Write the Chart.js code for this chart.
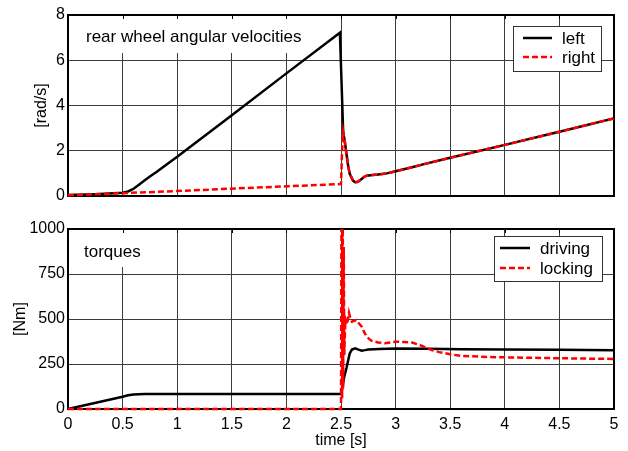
<!DOCTYPE html>
<html>
<head>
<meta charset="utf-8">
<script src="https://cdn.jsdelivr.net/npm/chart.js@4.4.0/dist/chart.umd.min.js"></script>
<style>
html,body{margin:0;padding:0;background:#fff;}
#panelTop{position:absolute;left:0;top:0;width:628px;height:215px;}
#panelBottom{position:absolute;left:0;top:215px;width:628px;height:236px;}
</style>
</head>
<body>
<div id="panelTop"><canvas id="chartVel"></canvas></div>
<div id="panelBottom"><canvas id="chartTorque"></canvas></div>
<script>
// top panel: rear wheel angular velocities [rad/s]
const tLeft = [0, 0.25, 0.5, 0.55, 0.6, 0.65, 0.7, 0.75, 0.81, 0.9, 1.0, 1.5, 2.0, 2.49, 2.52, 2.535, 2.55, 2.565, 2.58, 2.61, 2.63, 2.655, 2.68, 2.71, 2.735, 2.79, 2.84, 2.92, 3.0, 3.15, 3.27, 3.5, 4.0, 4.5, 5.0];
const leftVel = [0.04, 0.08, 0.14, 0.2, 0.32, 0.5, 0.68, 0.86, 1.06, 1.38, 1.73, 3.57, 5.42, 7.22, 2.83, 2.4, 1.86, 1.35, 0.98, 0.68, 0.61, 0.63, 0.72, 0.84, 0.9, 0.93, 0.95, 1.0, 1.09, 1.27, 1.42, 1.69, 2.26, 2.84, 3.43];
const tRight = [0, 1.0, 2.0, 2.5, 2.51, 2.52, 2.535, 2.55, 2.565, 2.58, 2.61, 2.63, 2.655, 2.68, 2.71, 2.735, 2.79, 2.84, 2.92, 3.0, 3.15, 3.27, 3.5, 4.0, 4.5, 5.0];
const rightVel = [0.03, 0.22, 0.43, 0.53, 2.0, 2.83, 2.4, 1.86, 1.35, 0.98, 0.68, 0.61, 0.63, 0.72, 0.84, 0.9, 0.93, 0.95, 1.0, 1.09, 1.27, 1.42, 1.69, 2.26, 2.84, 3.43];

// bottom panel: torques [Nm]
const tDriving = [0, 0.5, 0.55, 0.6, 0.65, 0.7, 1.0, 2.5, 2.51, 2.53, 2.55, 2.58, 2.6, 2.63, 2.66, 2.69, 2.72, 2.75, 2.85, 3.0, 3.3, 3.6, 4.0, 4.5, 5.0];
const driving = [0, 68, 76, 80, 82, 83.5, 84, 84, 110, 180, 228, 309, 330, 337, 330, 324, 327, 331, 333, 336, 335, 332, 331, 329, 326];
const tLocking = [0, 2.5, 2.505, 2.51, 2.515, 2.52, 2.525, 2.53, 2.54, 2.555, 2.573, 2.585, 2.6, 2.62, 2.64, 2.665, 2.69, 2.71, 2.735, 2.76, 2.78, 2.84, 2.9, 2.95, 3.0, 3.08, 3.15, 3.22, 3.28, 3.33, 3.4, 3.45, 3.5, 3.6, 3.8, 4.0, 4.5, 5.0];
const locking = [0, 0, 1300, 60, 1300, 120, 900, 300, 500, 470, 535, 505, 485, 490, 494, 475, 457, 430, 402, 388, 379, 370, 365, 370, 374, 372, 369, 356, 340, 328, 316, 310, 304, 295, 290, 287, 282, 278];

const xTicks = [0, 0.5, 1, 1.5, 2, 2.5, 3, 3.5, 4, 4.5, 5];
const velTicks = [0, 2, 4, 6, 8];
const torqueTicks = [0, 250, 500, 750, 1000];

Chart.defaults.font.family = '"Liberation Sans", Arial, Helvetica, sans-serif';
Chart.defaults.color = '#000';
Chart.defaults.animation = false;

const puntos = (ts, ys) => ts.map((t, i) => ({x: t, y: ys[i]}));

const gridColor = '#3c3c3c';

// white box + text inside the plot, then the frame (data goes on top)
const panelLabel = {
  id: 'panelLabel',
  beforeDatasetsDraw(chart, args, o) {
    const {ctx, chartArea: a, scales} = chart;
    ctx.save();
    ctx.fillStyle = '#fff';
    ctx.fillRect(o.box[0], o.box[1], o.box[2], o.box[3]);
    ctx.fillStyle = '#000';
    ctx.font = '17px "Liberation Sans", Arial, sans-serif';
    ctx.textBaseline = 'alphabetic';
    ctx.fillText(o.text, o.x, o.y);

    ctx.strokeStyle = '#000';
    ctx.lineWidth = 1;
    scales.x.ticks.forEach(t => {
      const px = Math.round(scales.x.getPixelForValue(t.value)) + 0.5;
      ctx.beginPath();
      ctx.moveTo(px, a.top);
      ctx.lineTo(px, a.top + 4);
      ctx.stroke();
    });
    ctx.lineWidth = 2;
    ctx.strokeRect(a.left, a.top, a.right - a.left, a.bottom - a.top);
    ctx.restore();
  }
};

const innerLegend = {
  id: 'innerLegend',
  afterDraw(chart, args, o) {
    const ctx = chart.ctx;
    ctx.save();
    ctx.fillStyle = '#fff';
    ctx.fillRect(o.x, o.y, o.w, o.h);
    ctx.strokeStyle = '#333';
    ctx.lineWidth = 1;
    ctx.strokeRect(o.x + 0.5, o.y + 0.5, o.w, o.h);
    chart.data.datasets.forEach((ds, i) => {
      const y = o.rows[i];
      ctx.strokeStyle = ds.borderColor;
      ctx.lineWidth = ds.borderWidth;
      ctx.setLineDash(ds.borderDash || []);
      ctx.beginPath();
      ctx.moveTo(o.lineX0, y);
      ctx.lineTo(o.lineX1, y);
      ctx.stroke();
      ctx.setLineDash([]);
      ctx.fillStyle = '#000';
      ctx.font = '17px "Liberation Sans", Arial, sans-serif';
      ctx.textBaseline = 'middle';
      ctx.fillText(ds.label, o.textX, y + 1);
    });
    ctx.restore();
  }
};

function ejeX(mostrarTexto, alto) {
  return {
    type: 'linear',
    min: 0,
    max: 5,
    afterBuildTicks: s => { s.ticks = xTicks.map(v => ({value: v})); },
    afterFit: s => { s.height = alto; },
    ticks: {
      display: mostrarTexto,
      padding: 6,
      maxRotation: 0,
      autoSkip: false,
      font: {size: 16},
      callback: v => String(+v.toFixed(1))
    },
    grid: {color: gridColor, lineWidth: 1, drawTicks: false},
    border: {display: false},
    title: {
      display: mostrarTexto,
      text: 'time [s]',
      font: {size: 16},
      padding: {top: 0, bottom: 1}
    }
  };
}

function ejeY(ticks, titulo, padTitulo) {
  return {
    min: ticks[0],
    max: ticks[ticks.length - 1],
    afterBuildTicks: s => { s.ticks = ticks.map(v => ({value: v})); },
    afterFit: s => { s.width = 68; },
    ticks: {padding: 3, font: {size: 16}, callback: v => String(v)},
    grid: {color: gridColor, lineWidth: 1, drawTicks: false},
    border: {display: false},
    title: {
      display: true,
      text: titulo,
      font: {size: 16},
      padding: {top: padTitulo, bottom: 0}
    }
  };
}

function serie(label, data, color, dash, orden) {
  return {
    label: label,
    data: data,
    borderColor: color,
    backgroundColor: color,
    borderWidth: 2.5,
    borderDash: dash,
    pointRadius: 0,
    tension: 0,
    clip: {left: 3, right: 3, top: 0, bottom: 3},
    order: orden
  };
}

new Chart(document.getElementById('chartVel'), {
  type: 'line',
  data: {
    datasets: [
      serie('left', puntos(tLeft, leftVel), '#000000', [], 1),
      serie('right', puntos(tRight, rightVel), '#ff0000', [6, 3], 0)
    ]
  },
  options: {
    responsive: true,
    maintainAspectRatio: false,
    parsing: false,
    layout: {padding: {top: 15, right: 14, left: 0, bottom: 0}},
    scales: {
      x: ejeX(false, 19),
      y: ejeY(velTicks, '[rad/s]', 32)
    },
    plugins: {
      legend: {display: false},
      tooltip: {enabled: false},
      panelLabel: {text: 'rear wheel angular velocities', x: 86, y: 42, box: [74, 16, 238, 37]},
      innerLegend: {x: 513, y: 26, w: 88, h: 45, rows: [38, 57], lineX0: 523, lineX1: 552, textX: 562}
    }
  },
  plugins: [panelLabel, innerLegend]
});

new Chart(document.getElementById('chartTorque'), {
  type: 'line',
  data: {
    datasets: [
      serie('driving', puntos(tDriving, driving), '#000000', [], 1),
      serie('locking', puntos(tLocking, locking), '#ff0000', [6, 3], 0)
    ]
  },
  options: {
    responsive: true,
    maintainAspectRatio: false,
    parsing: false,
    layout: {padding: {top: 14, right: 14, left: 0, bottom: 0}},
    scales: {
      x: ejeX(true, 42),
      y: ejeY(torqueTicks, '[Nm]', 11)
    },
    plugins: {
      legend: {display: false},
      tooltip: {enabled: false},
      panelLabel: {text: 'torques', x: 84, y: 42, box: [74, 15, 80, 37]},
      innerLegend: {x: 494, y: 21, w: 108, h: 45, rows: [33, 53], lineX0: 500, lineX1: 530, textX: 540}
    }
  },
  plugins: [panelLabel, innerLegend]
});
</script>
</body>
</html>
